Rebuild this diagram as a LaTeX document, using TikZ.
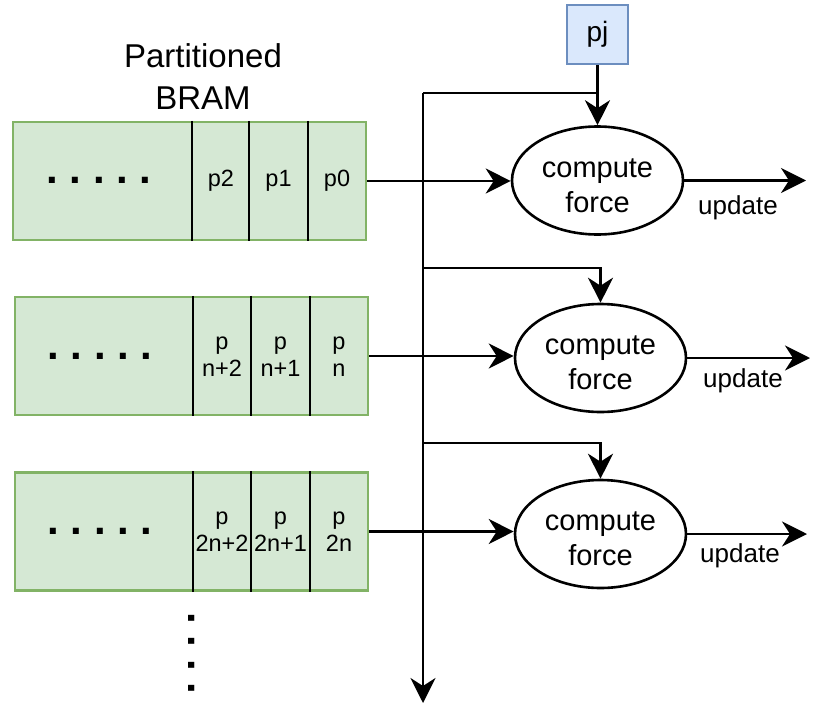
\documentclass[tikz,border=0pt]{standalone}
\usepackage{fontspec}
\setmainfont{Liberation Sans}
\usetikzlibrary{arrows.meta,shapes.geometric}
\definecolor{bramfill}{HTML}{D5E8D4}
\definecolor{bramline}{HTML}{82B366}
\definecolor{pjfill}{HTML}{DAE8FC}
\definecolor{pjline}{HTML}{6C8EBF}
\tikzset{
  wire/.style={line width=2.6pt},
  arrowwire/.style={wire, -{Stealth[length=25pt,width=25pt,inset=8pt]}},
  bram/.style={draw=bramline, fill=bramfill, line width=2.4pt,
    minimum width=353pt, minimum height=118pt, inner sep=0pt},
  divider/.style={line width=2.6pt},
  cell/.style={font=\fontsize{23.5}{27}\selectfont, align=center, inner sep=0pt},
  dots/.style={font=\fontsize{42}{23}\selectfont\bfseries\frenchspacing, inner sep=0pt},
  cftext/.style={font=\fontsize{29}{35}\selectfont, align=center, inner sep=0pt},
  cf/.style={draw, ellipse, line width=2.6pt, minimum width=171pt,
    minimum height=108pt, inner sep=0pt,
    label={[cftext, yshift=-5pt]center:compute\\force}},
  lbl/.style={font=\fontsize{26}{30}\selectfont, inner sep=0pt},
  title/.style={font=\fontsize{33}{42}\selectfont, align=center, inner sep=0pt},
  pjbox/.style={draw=pjline, fill=pjfill, line width=2.2pt,
    minimum width=61pt, minimum height=59pt, inner sep=0pt,
    font=\fontsize{28}{30}\selectfont},
}
\begin{document}
\begin{tikzpicture}[x=1pt,y=-1pt]
  \useasboundingbox (0,0) rectangle (816,704);

  % title
  \node[title] (title) at (203,77) {Partitioned\\BRAM};

  % partitioned BRAM rows
  \node[bram] (r1) at (189.5,181) {};
  \node[bram] (r2) at (191.5,356) {};
  \node[bram] (r3) at (191.5,531.5) {};

  \foreach \x in {192,249,308}
    \draw[divider] (\x,0 |- r1.north) -- (\x,0 |- r1.south);
  \foreach \x in {193,251,310} {
    \draw[divider] (\x,0 |- r2.north) -- (\x,0 |- r2.south);
    \draw[divider] (\x,0 |- r3.north) -- (\x,0 |- r3.south);
  }

  \node[dots] (d1) at (99,180) {. . . . .};
  \node[dots] (d2) at (100,356) {. . . . .};
  \node[dots] (d3) at (100,531) {. . . . .};

  \node[cell] (c12) at (221,181) {p2};
  \node[cell] (c11) at (278.5,181) {p1};
  \node[cell] (c10) at (337,181) {p0};

  \node[cell] (c22) at (222,357) {p\\n+2};
  \node[cell] (c21) at (280.5,357) {p\\n+1};
  \node[cell] (c20) at (339,357) {p\\n};

  \node[cell] (c32) at (222,532) {p\\2n+2};
  \node[cell] (c31) at (280.5,532) {p\\2n+1};
  \node[cell] (c30) at (339,532) {p\\2n};

  % further rows continue below
  \node[dots, rotate=-90] (vd) at (192,653.5) {. . . .};

  % particle pj and the compute units
  \node[pjbox] (pj) at (597.5,34.5) {pj};
  \node[cf] (e1) at (597.5,180.5) {};
  \node[cf] (e2) at (600.5,358) {};
  \node[cf] (e3) at (600.5,534) {};

  % pj broadcast bus
  \coordinate (bt) at (423,93);
  \coordinate (b2) at (423,268);
  \coordinate (b3) at (423,443);
  \coordinate (bb) at (423,703);
  \draw[arrowwire] (bt) -- (bb);
  \draw[wire] (bt) -- (pj.south |- bt);
  \draw[arrowwire] (pj.south) -- (e1.north);
  \draw[arrowwire] (b2) -| (e2.north);
  \draw[arrowwire] (b3) -| (e3.north);

  % BRAM outputs into compute units
  \draw[arrowwire] (r1.east) -- (r1.east -| e1.west);
  \draw[arrowwire] (r2.east) -- (r2.east -| e2.west);
  \draw[arrowwire] (r3.east) -- (r3.east -| e3.west);

  % update outputs
  \coordinate (o1) at (806,180.5);
  \coordinate (o2) at (810,358);
  \coordinate (o3) at (807,534);
  \draw[arrowwire] (e1.east) -- (e1.east -| o1);
  \draw[arrowwire] (e2.east) -- (e2.east -| o2);
  \draw[arrowwire] (e3.east) -- (e3.east -| o3);
  \node[lbl] (u1) at (738,208) {update};
  \node[lbl] (u2) at (743,381) {update};
  \node[lbl] (u3) at (740,556) {update};
\end{tikzpicture}
\end{document}
